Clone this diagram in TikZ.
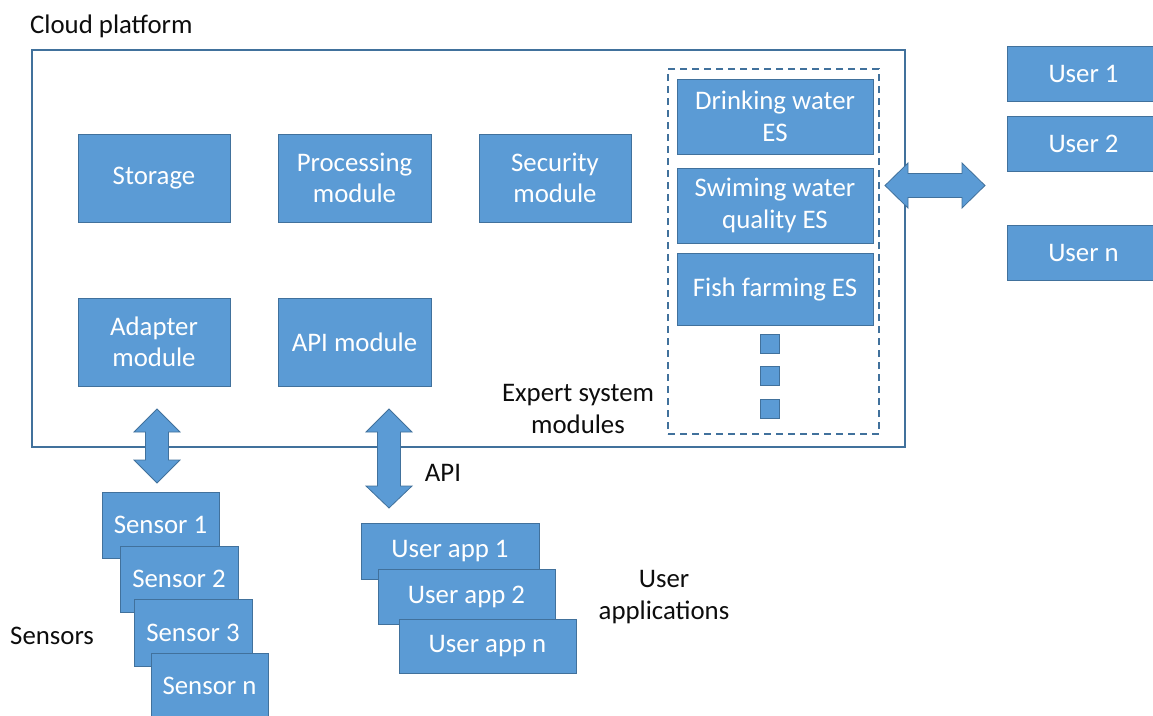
\documentclass[tikz,border=0pt]{standalone}
\usepackage{fontspec}
\setmainfont{Carlito}
\definecolor{boxfill}{HTML}{5B9BD5}
\definecolor{boxline}{HTML}{41719C}
\definecolor{txt}{HTML}{0D0D0D}
\begin{document}
\begin{tikzpicture}[x=1pt,y=-1pt,
  box/.style={fill=boxfill,draw=boxline,line width=1pt,text=white,align=center,inner sep=0pt,font=\fontsize{26.8}{31.5}\selectfont},
  lbl/.style={text=txt,align=center,inner sep=0pt,font=\fontsize{26.8}{31.5}\selectfont},
  blockarrow/.style={fill=boxfill,draw=boxline,line width=0.8pt,line join=miter}]
\useasboundingbox (0,0) rectangle (1153,715);
% cloud platform frame
\node[draw=boxline,line width=2.5pt,minimum width=873pt,minimum height=397pt,inner sep=0pt] (cloud) at (468.5,248.5) {};
\node[lbl,anchor=base west] (cloudlbl) at (30,33) {Cloud platform};
% expert system dashed frame
\node[draw=boxline,line width=1.5pt,dash pattern=on 7pt off 5pt,minimum width=211pt,minimum height=365pt,inner sep=0pt] (esframe) at (773.5,251.5) {};
% modules
\node[box,minimum width=152pt,minimum height=88pt] (storage) at (154,178) {Storage};
\node[box,minimum width=153pt,minimum height=88pt] (proc) at (354.5,178) {Processing\\module};
\node[box,minimum width=152pt,minimum height=88pt] (sec) at (555,178) {Security\\module};
\node[box,minimum width=152pt,minimum height=88pt] (adapter) at (154,342) {Adapter\\module};
\node[box,minimum width=153pt,minimum height=88pt] (api) at (354.5,342) {API module};
% ES modules
\node[box,minimum width=196pt,minimum height=75pt] (es1) at (775,116.5) {Drinking water\\ES};
\node[box,minimum width=196pt,minimum height=75pt] (es2) at (775,205.5) {Swiming water\\quality ES};
\node[box,minimum width=196pt,minimum height=72pt] (es3) at (775,289) {Fish farming ES};
\node[box,minimum width=19pt,minimum height=19pt] (d1) at (769.5,343.5) {};
\node[box,minimum width=19pt,minimum height=19pt] (d2) at (769.5,375.5) {};
\node[box,minimum width=19pt,minimum height=19pt] (d3) at (769.5,408.5) {};
\node[lbl] (eslbl) at (578,409) {Expert system\\modules};
% users
\node[box,minimum width=153pt,minimum height=55pt] (u1) at (1083.5,73.5) {User 1};
\node[box,minimum width=153pt,minimum height=55pt] (u2) at (1083.5,143.5) {User 2};
\node[box,minimum width=153pt,minimum height=55pt] (un) at (1083.5,252.5) {User n};
% horizontal double arrow
\draw[blockarrow] (885,185.5) -- (908,163) -- (908,173.5) -- (962,173.5) -- (962,163) -- (985,185.5)
  -- (962,208) -- (962,197.5) -- (908,197.5) -- (908,208) -- cycle;
% sensor arrow
\draw[blockarrow] (157,409) -- (180,432) -- (168.5,432) -- (168.5,460) -- (180,460) -- (157,483)
  -- (134,460) -- (145.5,460) -- (145.5,432) -- (134,432) -- cycle;
% API arrow
\draw[blockarrow] (389,409) -- (412,432) -- (400.5,432) -- (400.5,486) -- (412,486) -- (389,508)
  -- (366,486) -- (377.5,486) -- (377.5,432) -- (366,432) -- cycle;
\node[lbl,anchor=base] (apilbl) at (443,481) {API};
% sensors
\node[box,minimum width=117pt,minimum height=66pt] (s1) at (160.5,525) {Sensor 1};
\node[box,minimum width=118pt,minimum height=66pt] (s2) at (179,579) {Sensor 2};
\node[box,minimum width=118pt,minimum height=67pt] (s3) at (193,632.5) {Sensor 3};
\node[box,minimum width=117pt,minimum height=66pt] (sn) at (209.5,686) {Sensor n};
\node[lbl,anchor=base west] (senslbl) at (10,644) {Sensors};
% user apps
\node[box,minimum width=178pt,minimum height=56pt] (a1) at (450,551) {User app 1};
\node[box,minimum width=177pt,minimum height=55pt] (a2) at (466.5,596.5) {User app 2};
\node[box,minimum width=177pt,minimum height=54pt] (an) at (487.5,646) {User app n};
\node[lbl] (applbl) at (664,597) {User\\applications};
\end{tikzpicture}
\end{document}
